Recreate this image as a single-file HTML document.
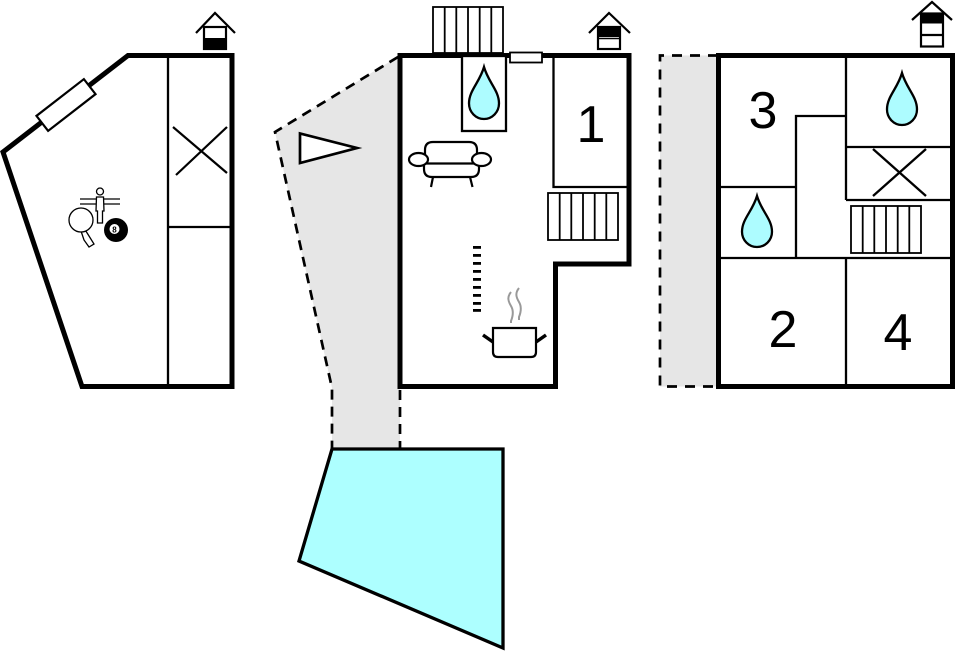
<!DOCTYPE html>
<html><head><meta charset="utf-8"><style>
html,body{margin:0;padding:0;background:#fff;}
svg{display:block;}
text{font-family:"Liberation Sans",Arial,sans-serif;}
</style></head><body>
<svg width="955" height="652" viewBox="0 0 955 652" xmlns="http://www.w3.org/2000/svg">
<!-- ============ LEFT BUILDING ============ -->
<polygon points="128,55.5 232,55.5 232,386.5 82,386.5 3,152" fill="#fff" stroke="#000" stroke-width="5" stroke-linejoin="miter"/>
<line x1="168" y1="56" x2="168" y2="386" stroke="#000" stroke-width="2.3"/>
<line x1="168" y1="227" x2="231" y2="227" stroke="#000" stroke-width="2.3"/>
<line x1="173" y1="127" x2="227" y2="173" stroke="#000" stroke-width="2.2"/>
<line x1="227" y1="127" x2="176" y2="175" stroke="#000" stroke-width="2.2"/>
<!-- window on diagonal -->
<rect x="-30" y="-9.5" width="60" height="19" fill="#fff" stroke="#000" stroke-width="2.2" transform="translate(66,105) rotate(-37.8)"/>
<!-- house icon -->
<polyline points="196,33 215,13 235,33" fill="none" stroke="#000" stroke-width="2.2"/>
<rect x="204" y="27" width="22" height="22" fill="#fff" stroke="#000" stroke-width="2.2"/>
<rect x="204" y="38" width="22" height="11" fill="#000"/>
<!-- game icons -->
<line x1="80" y1="199" x2="120" y2="199" stroke="#000" stroke-width="1.3"/>
<line x1="80" y1="204" x2="120" y2="204" stroke="#000" stroke-width="1.3"/>
<circle cx="100" cy="191.5" r="3.5" fill="#fff" stroke="#000" stroke-width="1.3"/>
<path d="M96.5,197 L103.5,197 L104,211 L102.5,211 L102.5,223 L97.5,223 L97.5,211 L96,211 Z" fill="#fff" stroke="#000" stroke-width="1.3"/>
<path d="M84,228 L89,236 L94,244 L89,247 L84,240 L81,231 Z" fill="#fff" stroke="#000" stroke-width="1.3"/>
<ellipse cx="81" cy="220" rx="12" ry="12" fill="#fff" stroke="#000" stroke-width="1.3"/>
<circle cx="116" cy="230" r="12" fill="#000"/>
<circle cx="114.5" cy="229" r="5" fill="#fff"/>
<text x="114.5" y="232.3" font-size="8" font-weight="bold" text-anchor="middle" fill="#000">8</text>

<!-- ============ MIDDLE BUILDING ============ -->
<polygon points="399,56 275,132 332,388 332,448 400,448 400,387" fill="#e6e6e6"/>
<polyline points="398,57 275,132 332,388 332,448" fill="none" stroke="#000" stroke-width="2.7" stroke-dasharray="10 7"/>
<line x1="400" y1="390" x2="400" y2="448" stroke="#000" stroke-width="2.7" stroke-dasharray="10 7"/>
<path d="M400,55.5 L629,55.5 L629,264 L555.5,264 L555.5,386.5 L400,386.5 Z" fill="#fff" stroke="#000" stroke-width="5"/>
<!-- top stairs -->
<rect x="433" y="7" width="70" height="46" fill="#fff" stroke="#000" stroke-width="1.8"/>
<g stroke="#000" stroke-width="1.8">
<line x1="444.7" y1="7" x2="444.7" y2="53"/><line x1="456.3" y1="7" x2="456.3" y2="53"/>
<line x1="468" y1="7" x2="468" y2="53"/><line x1="479.7" y1="7" x2="479.7" y2="53"/>
<line x1="491.3" y1="7" x2="491.3" y2="53"/>
</g>
<rect x="510" y="52.5" width="32" height="10" fill="#fff" stroke="#000" stroke-width="1.8"/>
<!-- shower box -->
<rect x="462" y="56" width="44" height="75" fill="#fff" stroke="#000" stroke-width="2.3"/>
<path d="M484,67 C488.5,82.6 499,90.4 499,103.4 A15,15.6 0 0 1 469,103.4 C469,90.4 479.5,82.6 484,67 Z" fill="#adfcff" stroke="#000" stroke-width="2.3"/>
<!-- room 1 -->
<polyline points="553.5,56 553.5,187 628,187" fill="none" stroke="#000" stroke-width="2.3"/>
<text x="591" y="142" font-size="52" text-anchor="middle" fill="#000">1</text>
<!-- right stairs -->
<rect x="548" y="193" width="70" height="47" fill="#fff" stroke="#000" stroke-width="1.8"/>
<g stroke="#000" stroke-width="1.8">
<line x1="559.7" y1="193" x2="559.7" y2="240"/><line x1="571.3" y1="193" x2="571.3" y2="240"/>
<line x1="583" y1="193" x2="583" y2="240"/><line x1="594.7" y1="193" x2="594.7" y2="240"/>
<line x1="606.3" y1="193" x2="606.3" y2="240"/>
</g>
<!-- house icon middle -->
<polyline points="589,33 609,13 630,33" fill="none" stroke="#000" stroke-width="2.2"/>
<rect x="598" y="27" width="22" height="22" fill="#fff" stroke="#000" stroke-width="2.2"/>
<rect x="598" y="27" width="22" height="10" fill="#000"/>
<line x1="598" y1="38.5" x2="620" y2="38.5" stroke="#000" stroke-width="1.4"/>
<!-- triangle -->
<polygon points="300,133.5 300,163 357,148" fill="#fff" stroke="#000" stroke-width="2.7"/>
<!-- sofa -->
<g fill="#fff" stroke="#000" stroke-width="2.2">
<path d="M425,160 L425,150 Q425,142 433,142 L469,142 Q477,142 477,150 L477,160"/>
<path d="M424,164 L424,169 Q424,177 432,177 L471,177 Q479,177 479,169 L479,164"/>
<line x1="426" y1="163.5" x2="476" y2="163.5"/>
<ellipse cx="418.5" cy="159.5" rx="9.5" ry="6.5"/>
<ellipse cx="481.5" cy="159.5" rx="9.5" ry="6.5"/>
<line x1="433" y1="177" x2="431" y2="187"/>
<line x1="470" y1="177" x2="472.5" y2="187"/>
</g>
<!-- ticks -->
<g fill="#000">
<rect x="473" y="246" width="8" height="2.8"/><rect x="473" y="254" width="8" height="2.8"/>
<rect x="473" y="262" width="8" height="2.8"/><rect x="473" y="270" width="8" height="2.8"/>
<rect x="473" y="278" width="8" height="2.8"/><rect x="473" y="286" width="8" height="2.8"/>
<rect x="473" y="294" width="8" height="2.8"/><rect x="473" y="302" width="8" height="2.8"/>
<rect x="473" y="309" width="8" height="2.8"/>
</g>
<!-- pot -->
<path d="M493,328 L536,328 L536,352 Q536,357 531,357 L498,357 Q493,357 493,352 Z" fill="#fff" stroke="#000" stroke-width="2.2"/>
<line x1="483" y1="335" x2="493" y2="342" stroke="#000" stroke-width="3.5"/>
<line x1="536" y1="342" x2="546" y2="335" stroke="#000" stroke-width="3.5"/>
<path d="M511,292 C507,297 508,301 511,306 C514,311 513,316 511,321 L511,323" fill="none" stroke="#999" stroke-width="2"/>
<path d="M519,288 C515,293 516,297 519,302 C522,307 521,312 519,317 L519,320" fill="none" stroke="#999" stroke-width="2"/>

<!-- ============ POOL ============ -->
<polygon points="332,449 503,449 503,648 299,561" fill="#adffff" stroke="#000" stroke-width="3.3"/>

<!-- ============ RIGHT BUILDING ============ -->
<rect x="660" y="55.5" width="58" height="331" fill="#e6e6e6"/>
<polyline points="718,55.5 660,55.5 660,386.5 718,386.5" fill="none" stroke="#000" stroke-width="2.7" stroke-dasharray="10 8"/>
<rect x="718.5" y="55.5" width="234" height="331" fill="#fff" stroke="#000" stroke-width="5"/>
<g stroke="#000" stroke-width="2.3" fill="none">
<line x1="846" y1="56" x2="846" y2="200"/>
<line x1="846" y1="147" x2="951" y2="147"/>
<line x1="846" y1="200" x2="951" y2="200"/>
<line x1="846" y1="258" x2="846" y2="385"/>
<line x1="720" y1="258" x2="951" y2="258"/>
<polyline points="846,116 796,116 796,258"/>
<line x1="720" y1="187" x2="796" y2="187"/>
<line x1="873" y1="149" x2="926" y2="196"/>
<line x1="926" y1="149" x2="873" y2="196"/>
</g>
<rect x="851" y="206" width="70" height="47" fill="#fff" stroke="#000" stroke-width="1.8"/>
<g stroke="#000" stroke-width="1.8">
<line x1="862.7" y1="206" x2="862.7" y2="253"/><line x1="874.3" y1="206" x2="874.3" y2="253"/>
<line x1="886" y1="206" x2="886" y2="253"/><line x1="897.7" y1="206" x2="897.7" y2="253"/>
<line x1="909.3" y1="206" x2="909.3" y2="253"/>
</g>
<path d="M902,73 C906.5,88.6 917,96.4 917,109.4 A15,15.6 0 0 1 887,109.4 C887,96.4 897.5,88.6 902,73 Z" fill="#adfcff" stroke="#000" stroke-width="2.3"/>
<path d="M757,196 C761.5,211.3 772,219 772,231.7 A15,15.3 0 0 1 742,231.7 C742,219 752.5,211.3 757,196 Z" fill="#adfcff" stroke="#000" stroke-width="2.3"/>
<text x="763" y="128" font-size="52" text-anchor="middle" fill="#000">3</text>
<text x="783" y="347" font-size="52" text-anchor="middle" fill="#000">2</text>
<text x="898" y="350" font-size="52" text-anchor="middle" fill="#000">4</text>
<polyline points="912,20 932,2 952,20" fill="none" stroke="#000" stroke-width="2.2"/>
<rect x="921" y="13.5" width="22" height="33" fill="#fff" stroke="#000" stroke-width="2.2"/>
<rect x="921" y="13.5" width="22" height="10" fill="#000"/>
<line x1="921" y1="35" x2="943" y2="35" stroke="#000" stroke-width="2.2"/>
</svg>
</body></html>
